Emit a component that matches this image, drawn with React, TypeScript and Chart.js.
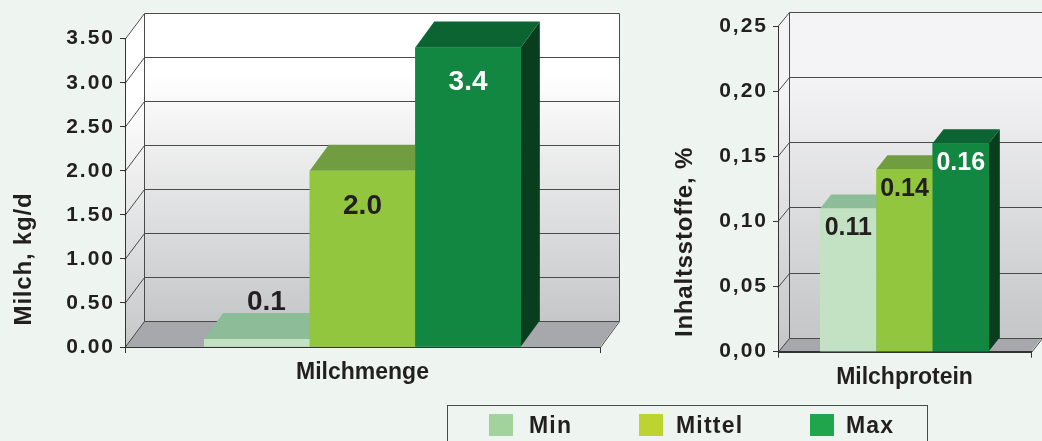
import { useEffect, useRef } from "react";
import { Chart, registerables } from "chart.js";

Chart.register(...registerables);

const FONT = '"Liberation Sans", Arial, Helvetica, sans-serif';
const INK = "#231f20";
const GRID = "#4a4a4a";
const AXIS = "#333333";
const FLOOR = "#a7a8ab";
const PAGE = "#eef5f0";

// ---- data ----
const seriesNames = ["Min", "Mittel", "Max"];

const mengeCategories = ["Milchmenge"];
const mengeValues = [0.09, 2.0, 3.4];
const mengeTickLabels = ["0.00", "0.50", "1.00", "1.50", "2.00", "2.50", "3.00", "3.50"];

const proteinCategories = ["Milchprotein"];
const proteinValues = [0.11, 0.14, 0.16];
const proteinTickLabels = ["0,00", "0,05", "0,10", "0,15", "0,20", "0,25"];

// ---- styles ----
const frontColors = ["#c3e2c4", "#92c63f", "#118742"];
const topColors = ["#8cbd98", "#6f9d3f", "#0d6433"];
const sideColors = ["#6f9a7b", "#557f2e", "#083d1d"];
const labelColors = [INK, INK, "#ffffff"];
const legendColors = ["#a3d39d", "#bdd330", "#1fa54b"];

type PanelCfg = {
  dx: number;
  dy: number;
  wallTop: string;
  wallBottom: string;
  labelSize: number;
  labelDy: number;
  decimals: number;
  title: string;
  titleX: number;
  titleY: number;
  titleSize: number;
};

function poly(ctx: CanvasRenderingContext2D, pts: number[][]) {
  ctx.beginPath();
  ctx.moveTo(pts[0][0], pts[0][1]);
  for (let i = 1; i < pts.length; i++) ctx.lineTo(pts[i][0], pts[i][1]);
  ctx.closePath();
}

const px = (v: number) => Math.round(v) + 0.5;

function makeBox3d(c: PanelCfg) {
  return {
    id: "box3d",
    beforeDraw(chart: any) {
      const ctx: CanvasRenderingContext2D = chart.ctx;
      const a = chart.chartArea;
      const ys = chart.scales.y;
      const { dx, dy } = c;
      ctx.save();
      (ctx as any).letterSpacing = "0px";
      const wall = ctx.createLinearGradient(0, a.top + dy, 0, a.bottom + dy);
      wall.addColorStop(0, c.wallTop);
      wall.addColorStop(0.2, c.wallTop);
      wall.addColorStop(1, c.wallBottom);
      ctx.fillStyle = wall;
      ctx.fillRect(a.left + dx, a.top + dy, a.right - a.left, a.bottom - a.top);
      const side = ctx.createLinearGradient(0, a.top, 0, a.bottom);
      side.addColorStop(0, c.wallTop);
      side.addColorStop(0.2, c.wallTop);
      side.addColorStop(1, c.wallBottom);
      ctx.fillStyle = side;
      poly(ctx, [
        [a.left, a.top],
        [a.left + dx, a.top + dy],
        [a.left + dx, a.bottom + dy],
        [a.left, a.bottom],
      ]);
      ctx.fill();
      ctx.fillStyle = FLOOR;
      poly(ctx, [
        [a.left, a.bottom],
        [a.left + dx, a.bottom + dy],
        [a.right + dx, a.bottom + dy],
        [a.right, a.bottom],
      ]);
      ctx.fill();
      ctx.strokeStyle = GRID;
      ctx.lineWidth = 1;
      for (const t of ys.ticks) {
        const py = ys.getPixelForValue(t.value);
        ctx.beginPath();
        ctx.moveTo(a.left, px(py));
        ctx.lineTo(px(a.left + dx), px(py + dy));
        ctx.lineTo(px(a.right + dx), px(py + dy));
        ctx.stroke();
      }
      ctx.beginPath();
      ctx.moveTo(px(a.left + dx), px(a.top + dy));
      ctx.lineTo(px(a.left + dx), px(a.bottom + dy));
      ctx.moveTo(px(a.right + dx), px(a.top + dy));
      ctx.lineTo(px(a.right + dx), px(a.bottom + dy));
      ctx.lineTo(px(a.right), px(a.bottom));
      ctx.stroke();
      ctx.restore();
      (ctx as any).letterSpacing = "0px";
    },
    afterDatasetsDraw(chart: any) {
      const ctx: CanvasRenderingContext2D = chart.ctx;
      const a = chart.chartArea;
      const { dx, dy } = c;
      ctx.save();
      (ctx as any).letterSpacing = "0px";
      const bars: { p: any; i: number; v: number }[] = [];
      chart.data.datasets.forEach((ds: any, i: number) => {
        const meta = chart.getDatasetMeta(i);
        meta.data.forEach((el: any, j: number) => {
          const p = el.getProps(["x", "y", "base", "width"], true);
          const l = p.x - p.width / 2;
          const r = p.x + p.width / 2;
          ctx.fillStyle = sideColors[i];
          poly(ctx, [
            [r, p.y],
            [r + dx, p.y + dy],
            [r + dx, p.base + dy],
            [r, p.base],
          ]);
          ctx.fill();
          ctx.fillStyle = topColors[i];
          poly(ctx, [
            [l, p.y],
            [l + dx, p.y + dy],
            [r + dx, p.y + dy],
            [r, p.y],
          ]);
          ctx.fill();
          el.draw(ctx);
          bars.push({ p, i, v: ds.data[j] });
        });
      });
      ctx.strokeStyle = AXIS;
      ctx.lineWidth = 1;
      ctx.beginPath();
      ctx.moveTo(a.left, px(a.bottom));
      ctx.lineTo(a.right, px(a.bottom));
      ctx.stroke();

      ctx.font = `bold ${c.labelSize}px ${FONT}`;
      ctx.textAlign = "center";
      ctx.textBaseline = "middle";
      for (const b of bars) {
        const h = b.p.base - b.p.y;
        let x: number;
        let y: number;
        if (h < c.labelSize * 1.5) {
          x = b.p.x + dx / 2;
          y = b.p.y + dy - c.labelSize * 0.4;
        } else {
          x = b.p.x;
          y = b.p.y + c.labelDy;
        }
        ctx.fillStyle = labelColors[b.i];
        ctx.fillText(Number(b.v).toFixed(c.decimals), x, y);
      }

      ctx.save();
      ctx.translate(c.titleX, c.titleY);
      ctx.rotate(-Math.PI / 2);
      ctx.font = `bold ${c.titleSize}px ${FONT}`;
      (ctx as any).letterSpacing = "0.8px";
      ctx.fillStyle = INK;
      ctx.fillText(c.title, 0, 0);
      ctx.restore();

      ctx.restore();
      (ctx as any).letterSpacing = "2px";
    },
    afterDraw(chart: any) {
      (chart.ctx as any).letterSpacing = "0px";
    },
  };
}

function makeConfig(
  categories: string[],
  values: number[],
  tickLabels: string[],
  max: number,
  step: number,
  yWidth: number,
  xHeight: number,
  padTop: number,
  padRight: number,
  panel: PanelCfg
): any {
  return {
    type: "bar",
    data: {
      labels: categories,
      datasets: seriesNames.map((name, i) => ({
        label: name,
        data: [values[i]],
        backgroundColor: frontColors[i],
        borderWidth: 0,
        categoryPercentage: 2 / 3,
        barPercentage: 1,
      })),
    },
    options: {
      animation: false,
      responsive: false,
      maintainAspectRatio: false,
      devicePixelRatio: 1,
      layout: { padding: { left: 0, top: padTop, right: padRight, bottom: 0 } },
      plugins: {
        legend: { display: false },
        tooltip: { enabled: false },
      },
      scales: {
        x: {
          grid: {
            display: true,
            drawOnChartArea: false,
            drawTicks: true,
            tickLength: 6,
            color: AXIS,
            offset: true,
          },
          border: { display: true, color: AXIS, width: 1 },
          ticks: {
            font: { family: FONT, size: 23, weight: "bold" },
            color: INK,
            padding: 6,
          },
          afterFit: (s: any) => {
            s.height = xHeight;
          },
        },
        y: {
          min: 0,
          max: max,
          ticks: {
            stepSize: step,
            callback: (_v: any, i: number) => tickLabels[i],
            font: { family: FONT, size: 21, weight: "bold" },
            color: INK,
            padding: 5,
            z: 1,
          },
          grid: {
            drawOnChartArea: false,
            drawTicks: true,
            tickLength: 5,
            color: AXIS,
          },
          border: { display: true, color: AXIS, width: 1 },
          afterFit: (s: any) => {
            s.width = yWidth;
          },
        },
      },
    },
    plugins: [makeBox3d(panel)],
  };
}

export default function App() {
  const leftRef = useRef<HTMLCanvasElement>(null);
  const rightRef = useRef<HTMLCanvasElement>(null);

  useEffect(() => {
    const left = new Chart(
      leftRef.current as HTMLCanvasElement,
      makeConfig(mengeCategories, mengeValues, mengeTickLabels, 3.5, 0.5, 125, 94, 38.7, 40, {
        dx: 19,
        dy: -26,
        wallTop: "#ffffff",
        wallBottom: "#c6c7c9",
        labelSize: 28,
        labelDy: 35,
        decimals: 1,
        title: "Milch, kg/d",
        titleX: 24,
        titleY: 259,
        titleSize: 24,
      })
    );
    const right = new Chart(
      rightRef.current as HTMLCanvasElement,
      makeConfig(proteinCategories, proteinValues, proteinTickLabels, 0.25, 0.05, 138, 89.3, 26, 11, {
        dx: 11,
        dy: -14,
        wallTop: "#f4f4f6",
        wallBottom: "#c5c6c8",
        labelSize: 25,
        labelDy: 20,
        decimals: 2,
        title: "Inhaltsstoffe, %",
        titleX: 45,
        titleY: 242,
        titleSize: 24,
      })
    );
    return () => {
      left.destroy();
      right.destroy();
    };
  }, []);

  const legendX = [489, 639, 810];
  const legendTextX = [529, 676, 846];

  return (
    <div
      style={{
        position: "absolute",
        left: 0,
        top: 0,
        width: 1042,
        height: 441,
        overflow: "hidden",
        background: PAGE,
      }}
    >
      <canvas
        ref={leftRef}
        width={640}
        height={441}
        style={{ position: "absolute", left: 0, top: 0, display: "block" }}
      />
      <canvas
        ref={rightRef}
        width={402}
        height={441}
        style={{ position: "absolute", left: 640, top: 0, display: "block" }}
      />
      <div
        style={{
          position: "absolute",
          left: 447,
          top: 405,
          width: 481,
          height: 50,
          boxSizing: "border-box",
          border: "1.5px solid #4a4a4a",
        }}
      />
      {seriesNames.map((name, i) => (
        <div key={name}>
          <div
            style={{
              position: "absolute",
              left: legendX[i],
              top: 414,
              width: 24,
              height: 22,
              background: legendColors[i],
            }}
          />
          <div
            style={{
              position: "absolute",
              left: legendTextX[i],
              top: 414,
              fontFamily: FONT,
              fontWeight: "bold",
              fontSize: 23,
              lineHeight: "23px",
              letterSpacing: "1.2px",
              color: INK,
              whiteSpace: "nowrap",
            }}
          >
            {name}
          </div>
        </div>
      ))}
    </div>
  );
}
